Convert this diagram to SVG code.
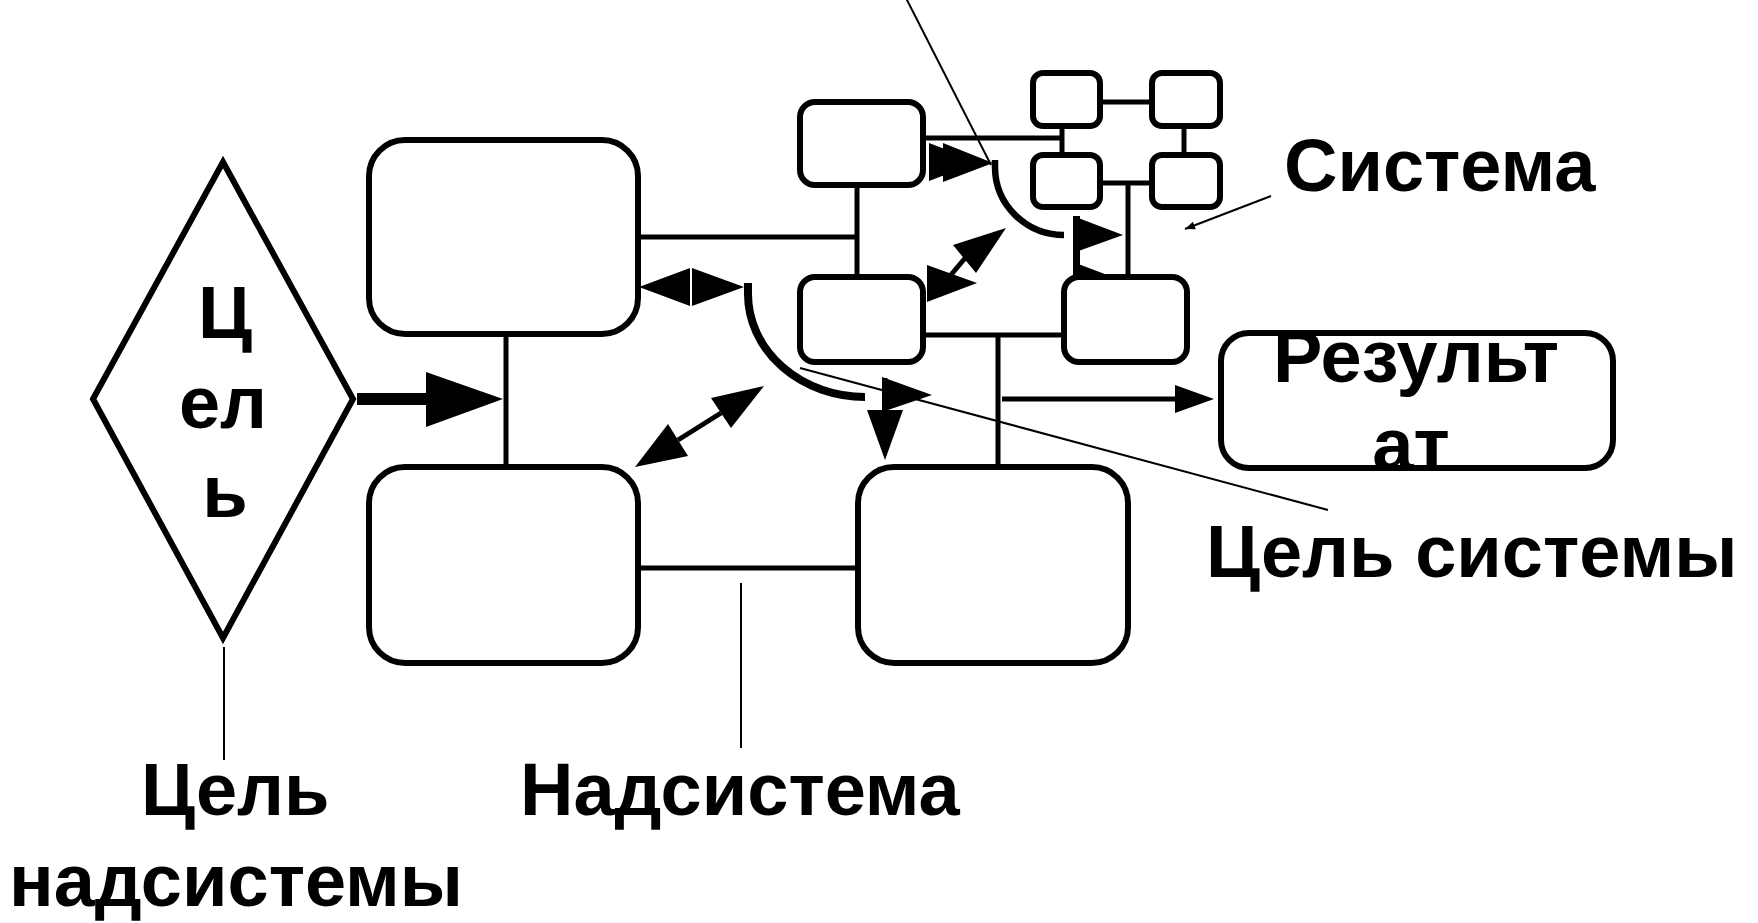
<svg xmlns="http://www.w3.org/2000/svg" width="1758" height="923" viewBox="0 0 1758 923">
<style>
.box{fill:#fff;stroke:#000;stroke-width:6}
.ln{stroke:#000;stroke-width:5;fill:none}
.thin{stroke:#000;stroke-width:2;fill:none}
.crv{stroke:#000;fill:none}
.hd{fill:#000;stroke:none}
.t{font-family:"Liberation Sans",Arial,sans-serif;font-weight:bold;font-size:74px;fill:#000}
.c{text-anchor:middle}
</style>
<defs>
<marker id="sm" viewBox="0 0 10 10" refX="10" refY="5" markerWidth="14" markerHeight="10" markerUnits="userSpaceOnUse" orient="auto"><path d="M0,1 L10,5 L0,9 Z" fill="#000"/></marker>
</defs>
<rect width="1758" height="923" fill="#fff"/>
<g id="connectors">
<line class="ln" x1="506" y1="334" x2="506" y2="467"/>
<line class="ln" x1="638" y1="237" x2="857" y2="237"/>
<line class="ln" x1="857" y1="185" x2="857" y2="277"/>
<line class="ln" x1="638" y1="568" x2="858" y2="568"/>
<line class="ln" x1="923" y1="138" x2="1062" y2="138"/>
<line class="ln" x1="1062" y1="126" x2="1062" y2="155"/>
<line class="ln" x1="1184" y1="126" x2="1184" y2="155"/>
<line class="ln" x1="1100" y1="102" x2="1152" y2="102"/>
<line class="ln" x1="1100" y1="183" x2="1152" y2="183"/>
<line class="ln" x1="1128" y1="183" x2="1128" y2="277"/>
<line class="ln" x1="923" y1="335" x2="1064" y2="335"/>
<line class="ln" x1="998" y1="335" x2="998" y2="466"/>
<rect class="hd" x="357" y="393" width="70" height="12"/>
<polygon class="hd" points="426,372 426,427 503,399"/>
<line class="ln" x1="1002" y1="399" x2="1177" y2="399"/>
<polygon class="hd" points="1175,385 1175,413 1214,399"/>
<polygon class="hd" points="639,287 690,268 690,306"/>
<polygon class="hd" points="744,287 692,268 692,306"/>
<path class="crv" stroke-width="8" d="M748,283 L748,294 A117,103 0 0 0 865,397"/>
<path class="crv" stroke-width="6.5" d="M995,160 L995,167 A69,68 0 0 0 1064,235"/>
<polygon class="hd" points="882,377 882,412 932,395"/>
<line class="ln" stroke-width="8" x1="885" y1="378" x2="885" y2="412"/>
<polygon class="hd" points="867,410 903,410 885,460"/>
<line class="ln" stroke-width="7" x1="678" y1="440" x2="721" y2="413"/>
<polygon class="hd" points="635,467 668,424 688,456"/>
<polygon class="hd" points="764,386 711,398 731,428"/>
<line class="ln" stroke-width="7" x1="950" y1="276" x2="966" y2="257"/>
<polygon class="hd" points="927,302 927,265 977,283"/>
<polygon class="hd" points="1006,228 953,245 976,273"/>
<polygon class="hd" points="929,143 929,181 979,162"/>
<polygon class="hd" points="943,143 943,182 993,163"/>
<rect class="hd" x="1073" y="216" width="7" height="81"/>
<polygon class="hd" points="1073,216 1073,253 1123,235"/>
<polygon class="hd" points="1073,262 1073,297 1118,279"/>
<line class="thin" x1="906" y1="-2" x2="991" y2="165"/>
<line class="thin" x1="1271" y1="196" x2="1185" y2="229" marker-end="url(#sm)"/>
<line class="thin" x1="800" y1="368" x2="1328" y2="510"/>
<line class="thin" x1="741" y1="583" x2="741" y2="748"/>
<line class="thin" x1="224" y1="647" x2="224" y2="760"/>
</g>
<g id="goal-supersystem">
<polygon class="box" points="223,162 353,399 223,638 93,399"/>
<text class="t c" x="225" y="338">Ц</text>
<text class="t c" x="223" y="428">ел</text>
<text class="t c" x="225" y="517">ь</text>
</g>
<g id="box1"><rect class="box" x="369" y="140" width="269" height="194" rx="36"/></g>
<g id="box2"><rect class="box" x="369" y="467" width="269" height="196" rx="36"/></g>
<g id="box3"><rect class="box" x="858" y="467" width="270" height="196" rx="36"/></g>
<g id="boxA"><rect class="box" x="800" y="102" width="123" height="83" rx="15"/></g>
<g id="boxB"><rect class="box" x="800" y="277" width="123" height="85" rx="15"/></g>
<g id="boxC"><rect class="box" x="1064" y="277" width="123" height="85" rx="15"/></g>
<g id="g1"><rect class="box" x="1033" y="73" width="67" height="53" rx="10"/></g>
<g id="g2"><rect class="box" x="1152" y="73" width="68" height="53" rx="10"/></g>
<g id="g3"><rect class="box" x="1033" y="155" width="67" height="52" rx="10"/></g>
<g id="g4"><rect class="box" x="1152" y="155" width="68" height="52" rx="10"/></g>
<g id="result">
<rect class="box" x="1221" y="333" width="392" height="135" rx="28"/>
<text class="t c" x="1416" y="382">Результ</text>
<text class="t c" x="1411" y="470">ат</text>
</g>
<g id="labels">
<text class="t" x="1284" y="191">Система</text>
<text class="t" x="1206" y="577">Цель системы</text>
<text class="t" x="141" y="815">Цель</text>
<text class="t" x="520" y="815">Надсистема</text>
<text class="t" x="9" y="906">надсистемы</text>
</g>
</svg>
